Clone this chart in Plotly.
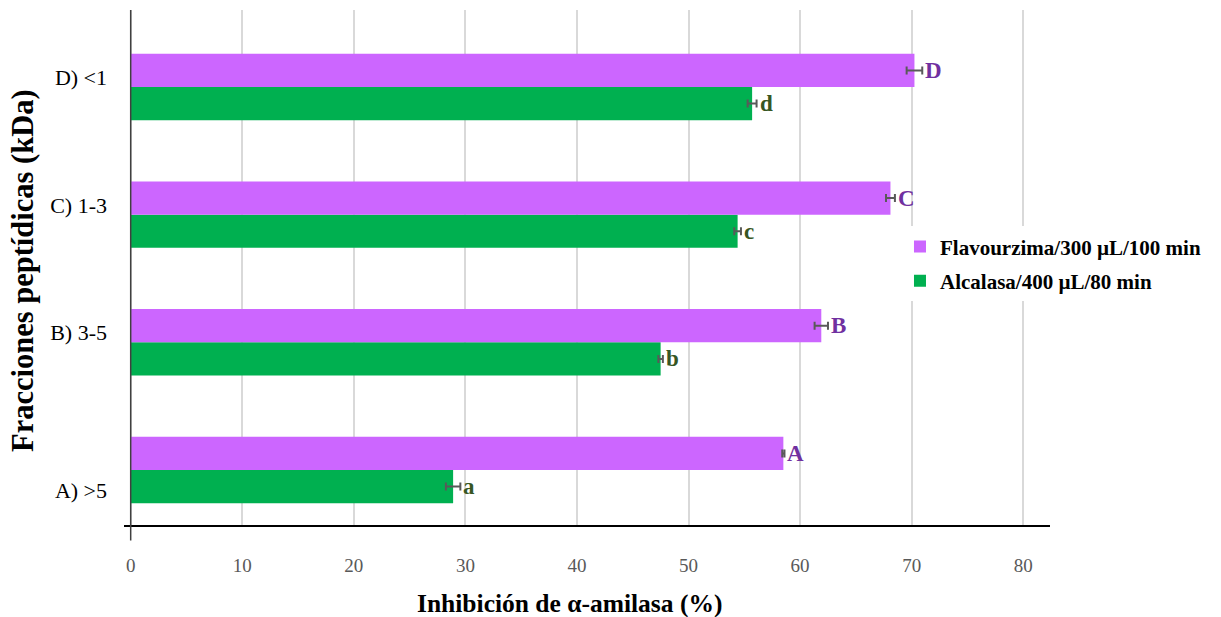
import plotly.graph_objects as go

# Peptide fractions (bottom to top) and alpha-amylase inhibition (%)
categories = ["A) >5", "B) 3-5", "C) 1-3", "D) <1"]
flavourzima = [58.5, 61.9, 68.1, 70.25]
flavourzima_err = [0.1, 0.6, 0.4, 0.7]
alcalasa = [28.9, 47.5, 54.4, 55.7]
alcalasa_err = [0.65, 0.2, 0.3, 0.4]
flavourzima_letters = ["A", "B", "C", "D"]
alcalasa_letters = ["a", "b", "c", "d"]

name_flav = "Flavourzima/300 µL/100 min"
name_alc = "Alcalasa/400 µL/80 min"

PURPLE = "#CC66FF"
GREEN = "#00B050"
PURPLE_TXT = "#7030A0"
GREEN_TXT = "#375623"
SERIF = "Liberation Serif"

# bar geometry (in category units)
BAR_W = 0.26
pos = list(range(len(categories)))
tick_shift = [-0.157, 0.081, 0.076, 0.078]
tickvals = [p + s for p, s in zip(pos, tick_shift)]

y_alc = [p - BAR_W / 2 for p in pos]
y_flav = [p + BAR_W / 2 for p in pos]

err_style = dict(type="data", thickness=2, width=4, color="#595959")

fig = go.Figure()
fig.add_trace(go.Bar(
    y=y_alc, x=alcalasa, orientation="h", width=BAR_W, name=name_alc,
    marker=dict(color=GREEN, line=dict(width=0)),
    error_x=dict(array=alcalasa_err, **err_style),
    legendgroup="alc", legendrank=2,
))
fig.add_trace(go.Bar(
    y=y_flav, x=flavourzima, orientation="h", width=BAR_W, name=name_flav,
    marker=dict(color=PURPLE, line=dict(width=0)),
    error_x=dict(array=flavourzima_err, **err_style),
    legendgroup="flav", legendrank=1,
))

# significance letters right after each error bar
for ys, vals, errs, letters, col in [
    (y_alc, alcalasa, alcalasa_err, alcalasa_letters, GREEN_TXT),
    (y_flav, flavourzima, flavourzima_err, flavourzima_letters, PURPLE_TXT),
]:
    for y, v, e, t in zip(ys, vals, errs, letters):
        fig.add_annotation(
            x=v + e, y=y, xref="x", yref="y", text=f"<b>{t}</b>",
            xanchor="left", yanchor="middle", xshift=1, showarrow=False,
            font=dict(family=SERIF, size=23, color=col),
        )

fig.update_layout(
    width=1221, height=617,
    margin=dict(l=124, r=171, t=10, b=92),
    plot_bgcolor="white", paper_bgcolor="white",
    barmode="overlay",
    font=dict(family=SERIF, color="black"),
    xaxis=dict(
        range=[-0.6, 82.4], tickvals=[0, 10, 20, 30, 40, 50, 60, 70, 80],
        showgrid=True, gridcolor="#D9D9D9", gridwidth=1.5,
        zeroline=False, showline=True, linecolor="black", linewidth=2,
        ticks="", ticklabelstandoff=22,
        tickfont=dict(family=SERIF, size=19, color="#595959"),
    ),
    yaxis=dict(
        range=[-0.431, 3.603], tickvals=tickvals, ticktext=categories,
        showgrid=False, zeroline=False, showline=False, ticks="",
        ticklabelstandoff=16,
        tickfont=dict(family=SERIF, size=22, color="black"),
    ),
    legend=dict(
        x=0.838, y=0.58, xanchor="left", yanchor="top",
        bgcolor="white", traceorder="grouped", tracegroupgap=4,
        font=dict(family=SERIF, size=21, color="black", weight="bold"),
    ),
    showlegend=True,
)

# vertical axis line at x = 0, running slightly below the horizontal axis
fig.add_shape(type="line", xref="x", yref="paper", x0=0, x1=0, y0=-0.03, y1=1,
              line=dict(color="#404040", width=1.5))

fig.add_annotation(
    text="<b>Inhibición de α-amilasa (%)</b>", xref="paper", yref="paper",
    x=(569 - 124) / 926, y=-(603 - 525) / 515, xanchor="center", yanchor="middle",
    showarrow=False, font=dict(family=SERIF, size=25.5, color="black"),
)
fig.add_annotation(
    text="<b>Fracciones peptídicas (kDa)</b>", xref="paper", yref="paper",
    x=(23 - 124) / 926, y=(525 - 271) / 515, xanchor="center", yanchor="middle",
    textangle=-90, showarrow=False, font=dict(family=SERIF, size=30.5, color="black"),
)

fig.write_html("out.html")
